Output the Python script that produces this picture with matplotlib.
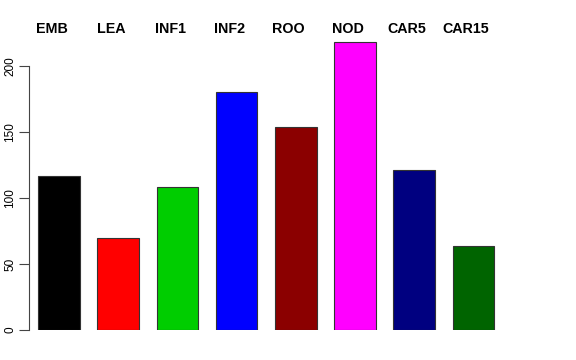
import numpy as np
import matplotlib
matplotlib.use("Agg")
from matplotlib import pyplot as plt

matplotlib.rcParams['font.family'] = ['Liberation Sans', 'DejaVu Sans']

tissues = ['EMB', 'LEA', 'INF1', 'INF2', 'ROO', 'NOD', 'CAR5', 'CAR15']
counts = [117, 70, 108, 180, 154, 218, 121, 64]
colors = ['black', 'red', '#00CD00', 'blue', '#8B0000', 'magenta', '#000080', '#006400']

fig = plt.figure(figsize=(5.76, 3.6), dpi=100)
# axes placed so that 0 sits at the baseline and the y axis is at x=29px
ax = fig.add_axes([29 / 576, 30 / 360, 547 / 576, 316.8 / 360])

x = np.arange(len(tissues))
ax.bar(x, counts, width=0.7, color=colors, edgecolor='#333333', linewidth=0.8)

# labels above the bars
for xi, name in zip(x, tissues):
    ax.text(xi - 0.125, 228, name, ha='center', va='center',
            fontsize=10.3, fontweight='bold', clip_on=False)

ax.set_xlim(-0.507, 8.733)
ax.set_ylim(0, 240)
ax.set_xticks([])
ax.set_yticks([0, 50, 100, 150, 200])
ax.set_yticklabels(['0', '50', '100', '150', '200'], rotation=90, va='center', fontsize=8.5)
ax.tick_params(axis='y', length=7, width=0.8, color='#444444', pad=2)
for s in ['top', 'right', 'bottom']:
    ax.spines[s].set_visible(False)
ax.spines['left'].set_bounds(0, 200)
ax.spines['left'].set_color('#444444')
ax.spines['left'].set_linewidth(0.8)

plt.savefig('out.png', dpi=100)
